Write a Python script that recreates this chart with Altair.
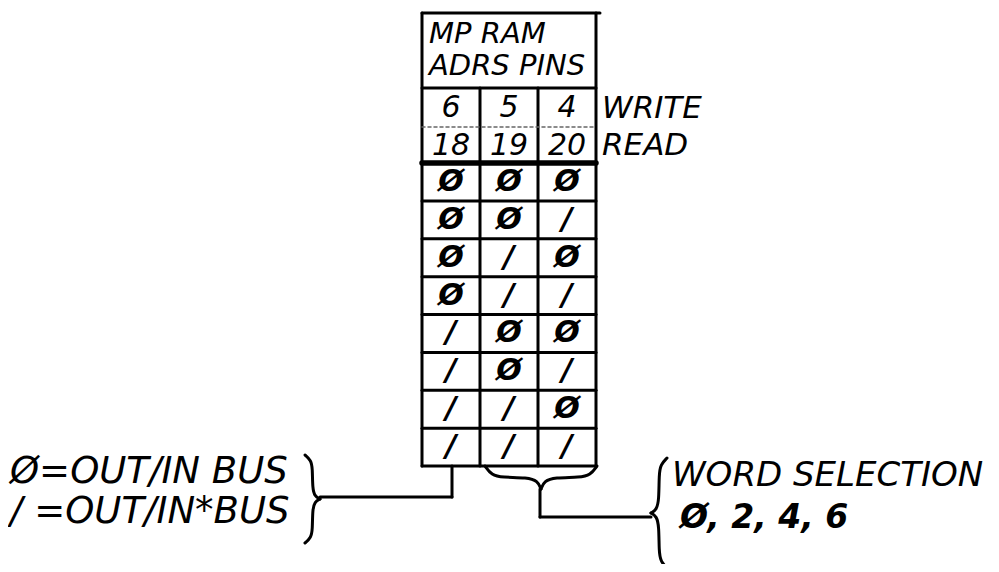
import altair as alt
import pandas as pd

# ---------------- data ----------------
header_lines = ["MP RAM", "ADRS PINS"]
write_pins = ["6", "5", "4"]
read_pins = ["18", "19", "20"]
row_labels = ["WRITE", "READ"]
bits = [
    [0, 0, 0],
    [0, 0, 1],
    [0, 1, 0],
    [0, 1, 1],
    [1, 0, 0],
    [1, 0, 1],
    [1, 1, 0],
    [1, 1, 1],
]
bit_glyph = {0: "Ø", 1: "/"}
legend_left = ["Ø=OUT/IN BUS", "/ =OUT/IN*BUS"]
legend_right = ["WORD SELECTION", "Ø, 2, 4, 6"]

# ---------------- layout (page pixels) ----------------
col_edges = [422, 480, 538, 596]
y_top, y_head, y_write, y_read, y_bottom = 13, 88, 127, 163, 466
row_h = (y_bottom - y_read) / len(bits)
col_mid = [(col_edges[i] + col_edges[i + 1]) / 2 for i in range(3)]
FONT = "DejaVu Sans"

X = lambda f="x": alt.X(f"{f}:Q", scale=alt.Scale(domain=[8, 991], nice=False, zero=False), axis=None)
Y = lambda f="y": alt.Y(f"{f}:Q", scale=alt.Scale(domain=[8, 564], nice=False, zero=False, reverse=True), axis=None)

# ---- grid lines ----
thin = []
left, right = col_edges[0], col_edges[-1]
thin.append(dict(x=left, x2=right + 4, y=y_top, y2=y_top))
thin.append(dict(x=left, x2=right, y=y_head, y2=y_head))
for i in range(1, len(bits) + 1):
    yy = y_read + i * row_h
    thin.append(dict(x=left, x2=right, y=yy, y2=yy))
thin.append(dict(x=left, x2=left, y=y_top, y2=y_bottom))
thin.append(dict(x=right, x2=right, y=y_top, y2=y_bottom))
for xe in col_edges[1:-1]:
    thin.append(dict(x=xe, x2=xe, y=y_head, y2=y_bottom))
# connectors
thin.append(dict(x=452, x2=452, y=y_bottom, y2=497))
thin.append(dict(x=320, x2=452, y=497, y2=497))
thin.append(dict(x=540, x2=540, y=489, y2=517))
thin.append(dict(x=540, x2=651, y=517, y2=517))

thick = [dict(x=left, x2=right, y=y_read, y2=y_read)]
dashed = [dict(x=left, x2=right, y=y_write, y2=y_write)]


def rules(rows, width, dash=None, color="black"):
    kw = dict(strokeWidth=width, color=color, strokeCap="round")
    if dash:
        kw["strokeDash"] = dash
    return alt.Chart(pd.DataFrame(rows)).mark_rule(**kw).encode(
        x=X(), x2=alt.X2("x2:Q"), y=Y(), y2=alt.Y2("y2:Q")
    )


# ---- braces (shape built from end points) ----
def brace(a, b, base, depth, vertical, sign, name):
    m = (a + b) / 2
    s = (b - a) * 0.1
    half1 = [(a, 0), (a + s * 0.6, depth * 0.4), (a + s * 1.5, depth * 0.5),
             (m - s * 1.2, depth * 0.5), (m - s * 0.3, depth * 0.65), (m, depth)]
    half2 = [(b - (t - a), n) for t, n in half1]
    pts = []
    for k, half in enumerate([half1, half2]):
        for o, (t, n) in enumerate(half):
            if vertical:
                pts.append(dict(x=base + sign * n, y=t, o=o, g=f"{name}{k}"))
            else:
                pts.append(dict(x=t, y=base + sign * n, o=o, g=f"{name}{k}"))
    return pts


brace_pts = []
brace_pts += brace(455, 543, 305, 15, True, 1, "L")
brace_pts += brace(485, 597, 466, 23, False, 1, "U")
brace_pts += brace(458, 568, 667, 16, True, -1, "R")
braces = alt.Chart(pd.DataFrame(brace_pts)).mark_line(
    color="black", strokeWidth=3, interpolate="basis", strokeCap="round"
).encode(x=X(), y=Y(), detail="g:N", order="o:Q")

# ---- texts ----
def texts(rows, align, size, weight="normal", style="italic"):
    return alt.Chart(pd.DataFrame(rows)).mark_text(
        align=align, baseline="middle", font=FONT, fontSize=size,
        fontStyle=style, fontWeight=weight, color="black"
    ).encode(x=X(), y=Y(), text="t:N")


header_rows = [dict(x=429, y=34 + 32 * i, t=s) for i, s in enumerate(header_lines)]
pin_rows = [dict(x=col_mid[i], y=108, t=s) for i, s in enumerate(write_pins)]
pin_rows += [dict(x=col_mid[i], y=146, t=s) for i, s in enumerate(read_pins)]
label_rows = [dict(x=602, y=109 + 37 * i, t=s) for i, s in enumerate(row_labels)]
bit_rows = []
for r, row in enumerate(bits):
    for c, v in enumerate(row):
        bit_rows.append(dict(x=col_mid[c], y=y_read + (r + 0.5) * row_h, t=bit_glyph[v]))
leg_l = [dict(x=10, y=472 + 40 * i, t=s) for i, s in enumerate(legend_left)]
leg_r1 = [dict(x=672, y=476, t=legend_right[0])]
leg_r2 = [dict(x=680, y=518, t=legend_right[1])]

chart = alt.layer(
    rules(thin, 3),
    rules(thick, 5.5),
    rules(dashed, 1.5, dash=[3, 3], color="#666"),
    braces,
    texts(header_rows, "left", 29),
    texts(pin_rows, "center", 30),
    texts(label_rows, "left", 31),
    texts(bit_rows, "center", 30, weight="bold"),
    texts(leg_l, "left", 37),
    texts(leg_r1, "left", 34),
    texts(leg_r2, "left", 33, weight="bold"),
).properties(
    width=983, height=556, padding=0, autosize="none", background="white"
).configure_view(stroke=None)

chart.save("out.html", embed_options={"renderer": "svg", "actions": False})
